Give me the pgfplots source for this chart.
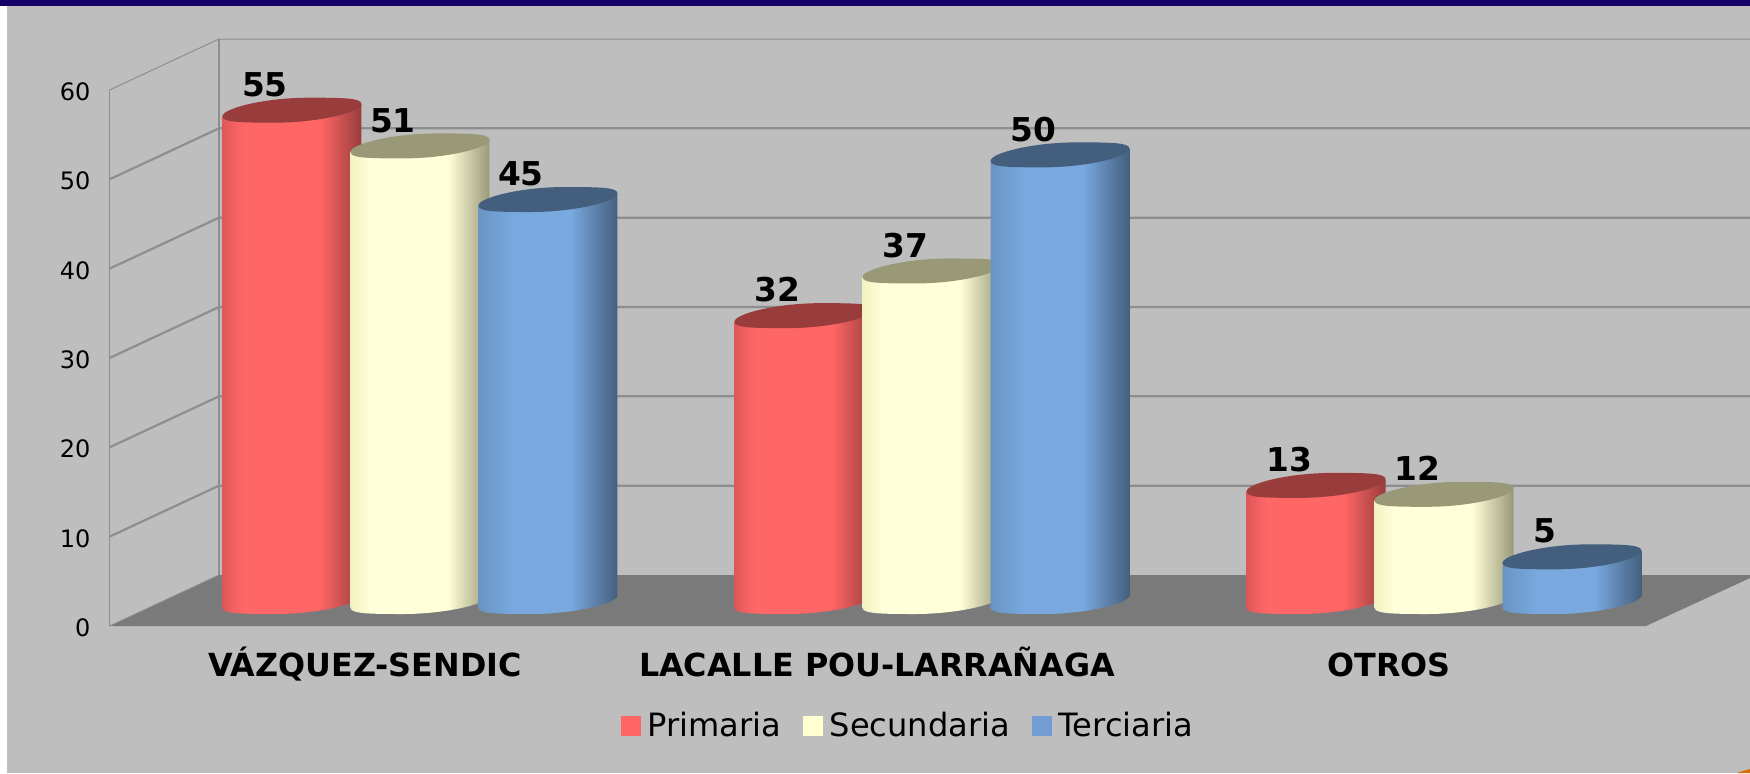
\documentclass[border=0pt]{standalone}
\usepackage{fontspec}
\setmainfont{DejaVu Sans}
\usepackage{pgfplots}
\pgfplotsset{compat=1.18}

\definecolor{bgc}{HTML}{BEBEBE}
\definecolor{navy}{HTML}{150068}
\definecolor{floorc}{HTML}{7A7A7A}
\definecolor{gridc}{HTML}{8E8E8E}
\definecolor{cRed}{HTML}{FF6666}
\definecolor{cYel}{HTML}{FFFFD0}
\definecolor{cBlu}{HTML}{739DD2}
\definecolor{rm}{HTML}{FF6666}\definecolor{rl}{HTML}{DD5858}\definecolor{rd}{HTML}{993C3C}
\definecolor{ym}{HTML}{FFFFDA}\definecolor{yl}{HTML}{F2F2C2}\definecolor{yd}{HTML}{999978}
\definecolor{bm}{HTML}{79A9DF}\definecolor{bl}{HTML}{6A94C4}\definecolor{bd}{HTML}{445F7E}

% side shading of the cylinders, 25bp-75bp is the width of the bar
\pgfdeclarehorizontalshading{cylR}{100bp}{color(0bp)=(rl); color(25bp)=(rl); color(32bp)=(rm); color(60bp)=(rm); color(75bp)=(rd); color(100bp)=(rd)}
\pgfdeclarehorizontalshading{cylY}{100bp}{color(0bp)=(yl); color(25bp)=(yl); color(32bp)=(ym); color(60bp)=(ym); color(75bp)=(yd); color(100bp)=(yd)}
\pgfdeclarehorizontalshading{cylB}{100bp}{color(0bp)=(bl); color(25bp)=(bl); color(38bp)=(bm); color(58bp)=(bm); color(75bp)=(bd); color(100bp)=(bd)}

% end cap of a cylinder, point symmetric about its centre
\newcommand{\capell}{%
  \pgfpathmoveto{\pgfqpoint{-34.75pt}{-3pt}}%
  \pgfpathcurveto{\pgfqpoint{-34.75pt}{0.8pt}}{\pgfqpoint{-14pt}{6.25pt}}{\pgfqpoint{8.5pt}{6.25pt}}%
  \pgfpathcurveto{\pgfqpoint{27pt}{6.25pt}}{\pgfqpoint{34.75pt}{6pt}}{\pgfqpoint{34.75pt}{3pt}}%
  \pgfpathcurveto{\pgfqpoint{34.75pt}{-0.8pt}}{\pgfqpoint{14pt}{-6.25pt}}{\pgfqpoint{-8.5pt}{-6.25pt}}%
  \pgfpathcurveto{\pgfqpoint{-27pt}{-6.25pt}}{\pgfqpoint{-34.75pt}{-6pt}}{\pgfqpoint{-34.75pt}{-3pt}}%
  \pgfpathclose}
\pgfdeclareplotmark{baseR}{\capell\pgfshadepath{cylR}{0}\pgfusepath{discard}}
\pgfdeclareplotmark{baseY}{\capell\pgfshadepath{cylY}{0}\pgfusepath{discard}}
\pgfdeclareplotmark{baseB}{\capell\pgfshadepath{cylB}{0}\pgfusepath{discard}}
\pgfdeclareplotmark{topR}{\capell\pgfsetfillcolor{rd}\pgfusepath{fill}}
\pgfdeclareplotmark{topY}{\capell\pgfsetfillcolor{yd}\pgfusepath{fill}}
\pgfdeclareplotmark{topB}{\capell\pgfsetfillcolor{bd}\pgfusepath{fill}}

% one cylinder: x, value, colour key
\newcommand{\cyl}[3]{%
  \addplot[only marks, mark=base#3, yshift=12.25pt, forget plot] coordinates {(#1,0)};
  \addplot[ybar, bar width=69.5pt, bar shift=0pt, draw=none, shade, shading=cyl#3,
    yshift={(12.25-0.0863*(#1+0.6064)*256)*1pt}, yslant=0.0863, forget plot] coordinates {(#1,#2)};
  \addplot[only marks, mark=top#3, yshift=12.25pt, forget plot,
    nodes near coords, point meta=y,
    every node near coord/.append style={anchor=center, xshift=-13.5pt, yshift=12.8pt, text=black,
      font=\bfseries\fontsize{16.4}{20}\selectfont}] coordinates {(#1,#2)};
}

\begin{document}
\begin{tikzpicture}[x=1pt,y=1pt]
  \path[use as bounding box] (-54.75,-73.5) rectangle (820.25,313);
  \fill[bgc] (-54.75,-73.5) rectangle (820.25,313);
  \fill[white] (-54.75,-73.5) rectangle (-51,310.5);
  \fill[navy] (-54.75,310.25) rectangle (820.25,313);
  \fill[orange!85!black] (820.25,-71.5) -- (813.5,-73.5) -- (820.25,-73.5) -- cycle;

  \begin{axis}[
    scale only axis, width=768.25pt, height=268pt,
    xmin=-0.6064, xmax=2.3945, ymin=0, ymax=60,
    clip=false, clip mode=individual,
    axis line style={draw=none}, tick style={draw=none},
    xtick={0,1,2},
    xticklabels={VÁZQUEZ-SENDIC, LACALLE POU-LARRAÑAGA, OTROS},
    xticklabel style={xshift=-27.5pt, yshift=-9.9pt, text height=11.8pt, text depth=3.5pt,
      font=\bfseries\fontsize{15.9}{19}\selectfont},
    ytick={0,10,...,60},
    yticklabel style={xshift=-6pt, yshift=-0.8pt, font=\fontsize{12}{14}\selectfont},
    /pgf/number format/assume math mode=true,
    legend style={at={(0.5203,-0.1866)}, anchor=center, legend columns=3, draw=none, fill=none,
      font=\fontsize{16.05}{19}\selectfont, inner sep=0pt,
      /tikz/every odd column/.append style={column sep=1.4pt},
      /tikz/every even column/.append style={column sep=9pt}},
  ]
    % floor
    \addplot[fill=floorc, draw=none, forget plot] coordinates
      {(-0.6064,0) (2.3945,0) (2.5977,5.37) (2.5977,5.709) (-0.3926,5.709)} -- cycle;
    % walls
    \addplot[gridc, line width=0.5pt, forget plot] coordinates {(-0.6064,0) (-0.6064,60)};
    \addplot[gridc, line width=0.6pt, forget plot] coordinates {(-0.3926,5.709) (-0.3926,65.709)};
    \addplot[gridc, line width=0.4pt, forget plot] coordinates {(-0.6064,0) (-0.3926,5.709)};
    \addplot[gridc, line width=1.1pt, forget plot] coordinates {(-0.6064,10) (-0.3926,15.709) (2.5977,15.709)};
    \addplot[gridc, line width=1.1pt, forget plot] coordinates {(-0.6064,20) (-0.3926,25.709) (2.5977,25.709)};
    \addplot[gridc, line width=1.1pt, forget plot] coordinates {(-0.6064,30) (-0.3926,35.709) (2.5977,35.709)};
    \addplot[gridc, line width=1.1pt, forget plot] coordinates {(-0.6064,40) (-0.3926,45.709) (2.5977,45.709)};
    \addplot[gridc, line width=1.1pt, forget plot] coordinates {(-0.6064,50) (-0.3926,55.709) (2.5977,55.709)};
    \addplot[gridc, line width=0.5pt, forget plot] coordinates {(-0.6064,60) (-0.3926,65.709) (2.5977,65.709)};

    % cylinders
    \cyl{-0.25}{55}{R} \cyl{0}{51}{Y} \cyl{0.25}{45}{B}
    \cyl{0.75}{32}{R}  \cyl{1}{37}{Y} \cyl{1.25}{50}{B}
    \cyl{1.75}{13}{R}  \cyl{2}{12}{Y} \cyl{2.25}{5}{B}

    \addlegendimage{legend image code/.code={\fill[cRed] (0pt,-4.75pt) rectangle (9.5pt,4.75pt);}}
    \addlegendentry{Primaria}
    \addlegendimage{legend image code/.code={\fill[cYel] (0pt,-4.75pt) rectangle (9.5pt,4.75pt);}}
    \addlegendentry{Secundaria}
    \addlegendimage{legend image code/.code={\fill[cBlu] (0pt,-4.75pt) rectangle (9.5pt,4.75pt);}}
    \addlegendentry{Terciaria}
  \end{axis}
\end{tikzpicture}
\end{document}
